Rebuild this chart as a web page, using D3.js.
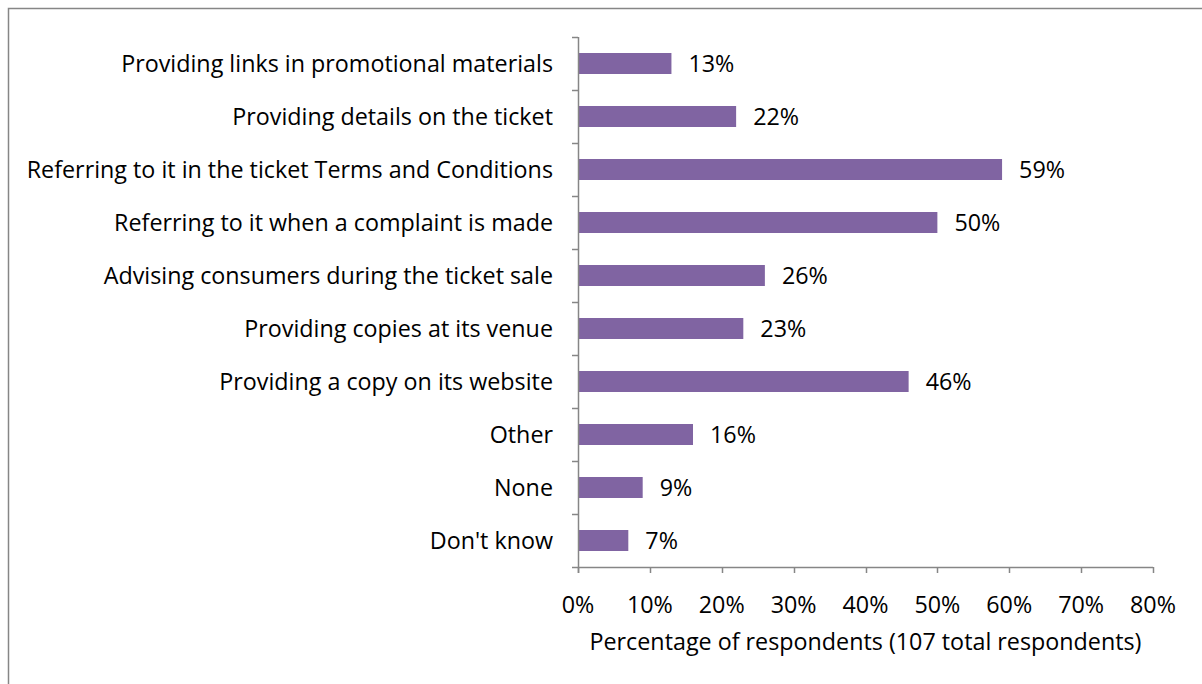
<!DOCTYPE html>
<html>
<head>
<meta charset="utf-8">
<script src="https://cdn.jsdelivr.net/npm/d3@7"></script>
<style>
  html, body { margin: 0; padding: 0; background: #fff; }
  svg { display: block; }
  text { font-family: "Open Sans", sans-serif; fill: #000; }
</style>
</head>
<body>
<svg id="chart" width="1202" height="684"></svg>
<script>
// Survey answers, top to bottom
const categories = [
  "Providing links in promotional materials",
  "Providing details on the ticket",
  "Referring to it in the ticket Terms and Conditions",
  "Referring to it when a complaint is made",
  "Advising consumers during the ticket sale",
  "Providing copies at its venue",
  "Providing a copy on its website",
  "Other",
  "None",
  "Don't know"
];
const values = [13, 22, 59, 50, 26, 23, 46, 16, 9, 7];
const xTicks = [0, 10, 20, 30, 40, 50, 60, 70, 80];
const xTitle = "Percentage of respondents (107 total respondents)";

const svg = d3.select("#chart");
const plot = { left: 578, right: 1153, top: 37, bottom: 567 };
const barColor = "#8064A2";
const axisColor = "#868686";
const fontSize = 23.3;

// outer frame
svg.append("rect")
  .attr("x", 8.5).attr("y", 8.5)
  .attr("width", 1300).attr("height", 800)
  .attr("fill", "none").attr("stroke", axisColor).attr("stroke-width", 1.5);

const x = d3.scaleLinear().domain([0, 80]).range([plot.left, plot.right]);
const band = d3.scaleBand().domain(categories).range([plot.top, plot.bottom]);
const barH = 21;

// bars
svg.append("g").selectAll("rect").data(values).join("rect")
  .attr("x", x(0))
  .attr("y", (d, i) => band(categories[i]) + band.bandwidth() / 2 - barH / 2)
  .attr("width", d => x(d) - x(0))
  .attr("height", barH)
  .attr("fill", barColor);

// value labels
svg.append("g").selectAll("text").data(values).join("text")
  .attr("x", d => x(d) + 17)
  .attr("y", (d, i) => band(categories[i]) + band.bandwidth() / 2)
  .attr("dy", "0.35em")
  .style("font-size", fontSize + "px")
  .text(d => d + "%");

// category axis
const yAxis = svg.append("g");
yAxis.append("line")
  .attr("x1", plot.left + 0.5).attr("x2", plot.left + 0.5)
  .attr("y1", plot.top).attr("y2", plot.bottom + 6)
  .attr("stroke", axisColor).attr("stroke-width", 1.5);
const boundaries = categories.map(c => band(c)).concat([plot.bottom]);
yAxis.selectAll("line.tick").data(boundaries).join("line")
  .attr("class", "tick")
  .attr("x1", plot.left - 6).attr("x2", plot.left)
  .attr("y1", d => Math.round(d) + 0.5).attr("y2", d => Math.round(d) + 0.5)
  .attr("stroke", axisColor).attr("stroke-width", 1.5);
yAxis.selectAll("text").data(categories).join("text")
  .attr("x", plot.left - 25)
  .attr("y", d => band(d) + band.bandwidth() / 2)
  .attr("dy", "0.35em")
  .attr("text-anchor", "end")
  .style("font-size", fontSize + "px")
  .text(d => d);

// value axis
const xAxis = svg.append("g");
xAxis.append("line")
  .attr("x1", plot.left).attr("x2", plot.right)
  .attr("y1", plot.bottom + 0.5).attr("y2", plot.bottom + 0.5)
  .attr("stroke", axisColor).attr("stroke-width", 1.5);
xAxis.selectAll("line.tick").data(xTicks).join("line")
  .attr("class", "tick")
  .attr("x1", d => Math.round(x(d)) + 0.5).attr("x2", d => Math.round(x(d)) + 0.5)
  .attr("y1", plot.bottom).attr("y2", plot.bottom + 6)
  .attr("stroke", axisColor).attr("stroke-width", 1.5);
xAxis.selectAll("text").data(xTicks).join("text")
  .attr("x", d => x(d))
  .attr("y", 605)
  .attr("dy", "0.35em")
  .attr("text-anchor", "middle")
  .style("font-size", fontSize + "px")
  .text(d => d + "%");

svg.append("text")
  .attr("x", (plot.left + plot.right) / 2)
  .attr("y", 642)
  .attr("dy", "0.35em")
  .attr("text-anchor", "middle")
  .style("font-size", fontSize + "px")
  .text(xTitle);
</script>
</body>
</html>
